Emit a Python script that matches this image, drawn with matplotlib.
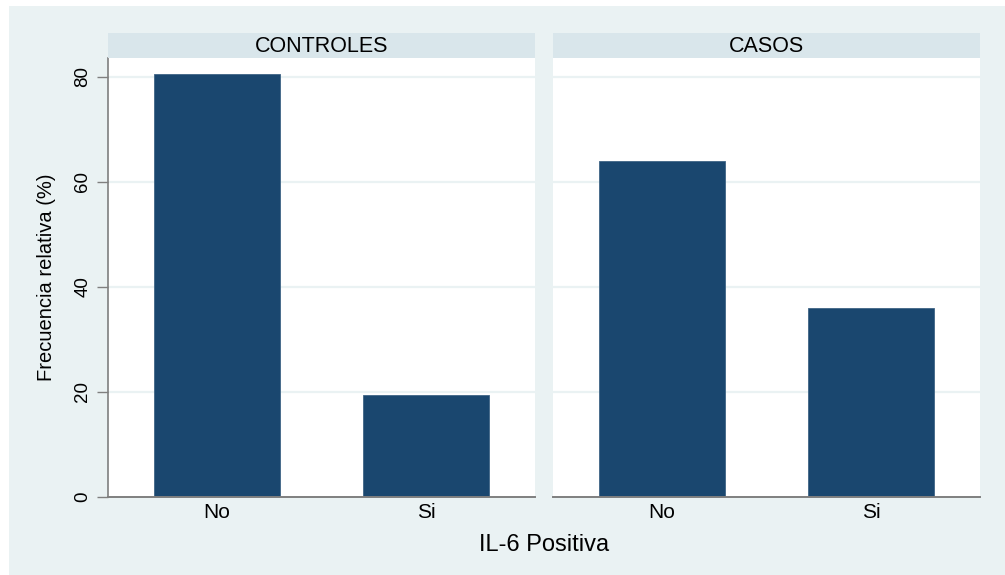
import matplotlib
matplotlib.use("Agg")
import matplotlib.pyplot as plt
from matplotlib.patches import Rectangle

plt.rcParams['font.family'] = ['Liberation Sans', 'DejaVu Sans']

# Data
groups = ["CONTROLES", "CASOS"]
categories = ["No", "Si"]
controles_pct = [80.6, 19.4]
casos_pct = [64.0, 36.0]
values = [controles_pct, casos_pct]
yticks = [0, 20, 40, 60, 80]

BG = "#EAF2F3"
STRIP = "#D9E6EB"
BAR = "#1A476F"
AXIS = "#7F7F7F"

W, H = 1005, 575
fig = plt.figure(figsize=(W / 100, H / 100), dpi=100, facecolor="white")

# graph region background, drawn beneath the panels
fig.patches.append(Rectangle((9 / W, 0), 1 - 9 / W, (H - 6) / H,
                             transform=fig.transFigure, facecolor=BG,
                             edgecolor="none", zorder=-10))

panel_lefts = [108, 553]
panel_w = 427
plot_top, plot_bot = 58, 497
strip_top = 33

for i, (grp, vals) in enumerate(zip(groups, values)):
    x0 = panel_lefts[i]
    ax = fig.add_axes([x0 / W, (H - plot_bot) / H, panel_w / W,
                       (plot_bot - plot_top) / H])
    ax.set_facecolor("white")
    xs = list(range(len(categories)))
    ax.bar(xs, vals, width=0.6, color=BAR, edgecolor="#3F6485",
           linewidth=0.6, zorder=3)
    ax.set_xlim(-0.52, 1.52)
    ax.set_ylim(0, 83.6)
    ax.set_yticks(yticks)
    for yv in yticks[1:]:
        ax.axhline(yv, color=BG, linewidth=1.6, zorder=1)
    ax.set_xticks(xs)
    ax.set_xticklabels(categories, fontsize=15)
    ax.tick_params(axis="x", length=0, pad=4)
    for s in ["top", "right"]:
        ax.spines[s].set_visible(False)
    ax.spines["bottom"].set_color(AXIS)
    ax.spines["bottom"].set_linewidth(1.4)
    ax.spines["bottom"].set_zorder(4)
    if i == 0:
        ax.spines["left"].set_color(AXIS)
        ax.spines["left"].set_linewidth(1.2)
        ax.set_yticklabels([str(t) for t in yticks], rotation=90,
                           va="center", fontsize=13.5)
        ax.tick_params(axis="y", length=8, width=1.0, color=AXIS, pad=4)
        ax.set_ylabel("Frecuencia relativa (%)", fontsize=14.5, labelpad=13)
    else:
        ax.spines["left"].set_visible(False)
        ax.tick_params(axis="y", left=False, labelleft=False)

    # panel title strip
    sax = fig.add_axes([x0 / W, (H - plot_top) / H, panel_w / W,
                        (plot_top - strip_top) / H])
    sax.set_facecolor(STRIP)
    sax.set_xticks([])
    sax.set_yticks([])
    for s in sax.spines.values():
        s.set_visible(False)
    sax.text(0.5, 0.45, grp, ha="center", va="center", fontsize=15.5,
             transform=sax.transAxes)

fig.text(544 / W, 1 - 545 / H, "IL-6 Positiva", ha="center", va="center",
         fontsize=17)

fig.savefig("out.png", dpi=100, facecolor=fig.get_facecolor())
